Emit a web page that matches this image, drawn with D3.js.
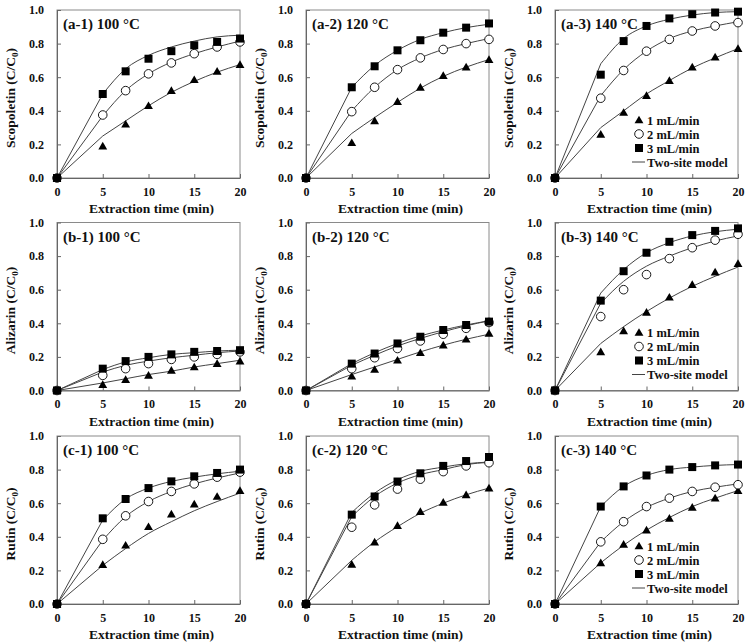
<!DOCTYPE html>
<html><head><meta charset="utf-8">
<script src="https://cdn.jsdelivr.net/npm/d3@7"></script>
<style>
html,body{margin:0;padding:0;background:#fff;}
svg text{font-family:"Liberation Serif","Times New Roman",serif;font-weight:bold;fill:#111;}
</style></head>
<body>
<svg id="chart" width="751" height="644"></svg>
<script>
// ---------- data ----------
const times = [0, 5, 7.5, 10, 12.5, 15, 17.5, 20];
const xTicks = [0, 5, 10, 15, 20];
const yTicks = [0, 0.2, 0.4, 0.6, 0.8, 1.0];
const flowLabels = ["1 mL/min", "2 mL/min", "3 mL/min"];
const modelLabel = "Two-site model";
const panelTitles = ["(a-1) 100 °C","(a-2) 120 °C","(a-3) 140 °C",
                     "(b-1) 100 °C","(b-2) 120 °C","(b-3) 140 °C",
                     "(c-1) 100 °C","(c-2) 120 °C","(c-3) 140 °C"];
const compounds = ["Scopoletin", "Alizarin", "Rutin"];

// measured points: [1 mL/min, 2 mL/min, 3 mL/min]
const a1Points = [[0,0.19,0.32,0.43,0.52,0.585,0.635,0.675],[0,0.375,0.52,0.62,0.685,0.74,0.78,0.81],[0,0.50,0.635,0.71,0.755,0.79,0.81,0.83]];
const a2Points = [[0,0.21,0.34,0.455,0.54,0.61,0.66,0.705],[0,0.395,0.54,0.645,0.715,0.765,0.80,0.825],[0,0.54,0.665,0.76,0.82,0.865,0.895,0.92]];
const a3Points = [[0,0.26,0.39,0.49,0.58,0.66,0.72,0.77],[0,0.475,0.64,0.755,0.825,0.875,0.905,0.925],[0,0.615,0.815,0.905,0.95,0.975,0.985,0.99]];
const b1Points = [[0,0.035,0.065,0.09,0.12,0.14,0.16,0.175],[0,0.09,0.13,0.16,0.185,0.20,0.215,0.23],[0,0.13,0.175,0.20,0.215,0.23,0.235,0.24]];
const b2Points = [[0,0.085,0.125,0.18,0.225,0.27,0.305,0.34],[0,0.13,0.195,0.25,0.295,0.335,0.37,0.405],[0,0.16,0.22,0.28,0.32,0.36,0.39,0.41]];
const b3Points = [[0,0.23,0.355,0.465,0.555,0.63,0.705,0.755],[0,0.44,0.60,0.69,0.785,0.85,0.895,0.93],[0,0.535,0.71,0.82,0.885,0.925,0.95,0.965]];
const c1Points = [[0,0.235,0.35,0.46,0.535,0.595,0.64,0.675],[0,0.385,0.525,0.61,0.67,0.715,0.755,0.785],[0,0.51,0.625,0.69,0.73,0.76,0.78,0.80]];
const c2Points = [[0,0.236,0.368,0.467,0.55,0.605,0.65,0.69],[0,0.457,0.59,0.684,0.743,0.788,0.822,0.841],[0,0.532,0.64,0.729,0.778,0.822,0.851,0.875]];
const c3Points = [[0,0.245,0.355,0.44,0.51,0.575,0.63,0.675],[0,0.37,0.49,0.58,0.63,0.67,0.695,0.71],[0,0.58,0.70,0.765,0.80,0.815,0.825,0.83]];

// two-site model curves read at the same times
const a1Model = [[0,0.25,0.34,0.43,0.51,0.575,0.63,0.675],[0,0.37,0.52,0.62,0.69,0.74,0.78,0.815],[0,0.50,0.65,0.73,0.78,0.815,0.84,0.85]];
const a2Model = [[0,0.265,0.36,0.45,0.535,0.605,0.66,0.705],[0,0.40,0.54,0.645,0.715,0.765,0.80,0.83],[0,0.54,0.67,0.76,0.825,0.865,0.895,0.915]];
const a3Model = [[0,0.30,0.40,0.50,0.58,0.655,0.715,0.77],[0,0.49,0.645,0.755,0.83,0.875,0.905,0.93],[0,0.68,0.83,0.905,0.945,0.97,0.985,0.99]];
const b1Model = [[0,0.045,0.07,0.095,0.115,0.14,0.16,0.18],[0,0.11,0.15,0.175,0.195,0.21,0.225,0.235],[0,0.125,0.17,0.195,0.215,0.225,0.235,0.24]];
const b2Model = [[0,0.095,0.14,0.185,0.23,0.27,0.305,0.335],[0,0.15,0.21,0.265,0.31,0.35,0.385,0.415],[0,0.16,0.225,0.28,0.325,0.36,0.39,0.415]];
const b3Model = [[0,0.28,0.38,0.47,0.55,0.62,0.68,0.735],[0,0.52,0.65,0.74,0.80,0.85,0.89,0.92],[0,0.58,0.72,0.82,0.88,0.92,0.945,0.96]];
const c1Model = [[0,0.23,0.33,0.42,0.49,0.555,0.61,0.66],[0,0.38,0.52,0.61,0.67,0.715,0.75,0.78],[0,0.50,0.625,0.69,0.73,0.755,0.775,0.79]];
const c2Model = [[0,0.26,0.37,0.46,0.54,0.60,0.65,0.69],[0,0.52,0.64,0.72,0.77,0.80,0.83,0.843],[0,0.545,0.66,0.74,0.79,0.815,0.835,0.845]];
const c3Model = [[0,0.245,0.35,0.44,0.515,0.58,0.63,0.675],[0,0.37,0.49,0.575,0.63,0.67,0.695,0.715],[0,0.58,0.70,0.765,0.80,0.815,0.825,0.83]];

const allPoints = [a1Points,a2Points,a3Points,b1Points,b2Points,b3Points,c1Points,c2Points,c3Points];
const allModels = [a1Model,a2Model,a3Model,b1Model,b2Model,b3Model,c1Model,c2Model,c3Model];

// ---------- layout ----------
const colX = [57, 306, 555];
const rowY = [10, 222.5, 436];
const PW = 183, PH = 168;

const svg = d3.select("#chart");

const symTri = d3.symbol().type(d3.symbolTriangle).size(34);
const symSq = d3.symbol().type(d3.symbolSquare).size(64);

function drawMarker(g, k, cx, cy) {
  if (k === 0) {
    g.append("path").attr("d", symTri()).attr("transform", `translate(${cx},${cy+0.8})`).attr("fill", "#000");
  } else if (k === 1) {
    g.append("circle").attr("cx", cx).attr("cy", cy).attr("r", 4.3)
      .attr("fill", "#fff").attr("stroke", "#000").attr("stroke-width", 0.9);
  } else {
    g.append("path").attr("d", symSq()).attr("transform", `translate(${cx},${cy})`).attr("fill", "#000");
  }
}

for (let p = 0; p < 9; p++) {
  const r = Math.floor(p / 3), c = p % 3;
  const x0 = colX[c], y0 = rowY[r];
  const x = d3.scaleLinear().domain([0, 20]).range([x0, x0 + PW]);
  const y = d3.scaleLinear().domain([0, 1]).range([y0 + PH, y0]);
  const g = svg.append("g");

  // frame
  g.append("rect").attr("x", x0).attr("y", y0).attr("width", PW).attr("height", PH)
    .attr("fill", "none").attr("stroke", "#8a8a8a").attr("stroke-width", 1);

  // axes
  const yAxis = d3.axisLeft(y).tickValues(yTicks).tickFormat(d3.format(".1f"))
    .tickSizeInner(-4).tickSizeOuter(0).tickPadding(13);
  const xAxis = d3.axisBottom(x).tickValues(xTicks).tickFormat(d3.format("d"))
    .tickSizeInner(-4).tickSizeOuter(0).tickPadding(9);
  const ga = g.append("g").attr("transform", `translate(${x0},0)`).call(yAxis);
  const gb = g.append("g").attr("transform", `translate(0,${y0 + PH})`).call(xAxis);
  [ga, gb].forEach(a => {
    a.select(".domain").attr("stroke", "#666");
    a.selectAll(".tick line").attr("stroke", "#666");
    a.selectAll("text").attr("font-size", 12).attr("fill", "#111")
      .attr("font-family", '"Liberation Serif",serif').attr("font-weight", "bold");
  });

  // axis titles
  g.append("text").attr("x", x0 + PW / 2 + 3).attr("y", y0 + PH + 35)
    .attr("text-anchor", "middle").attr("font-size", 13.5).text("Extraction time (min)");
  const yt = g.append("text").attr("transform", `translate(${x0 - 42},${y0 + PH / 2 + 4}) rotate(-90)`)
    .attr("text-anchor", "middle").attr("font-size", 13.5);
  yt.append("tspan").text(compounds[r] + " (C/C");
  yt.append("tspan").attr("font-size", 9).attr("dy", 3).text("0");
  yt.append("tspan").attr("dy", -3).text(")");

  // panel title
  g.append("text").attr("x", x0 + 6).attr("y", y0 + 19).attr("font-size", 15).text(panelTitles[p]);

  // model curves: straight from the origin to t = 5, smooth afterwards
  const curve = d3.line().x(d => x(d[0])).y(d => y(d[1])).curve(d3.curveMonotoneX);
  allModels[p].forEach(s => {
    const pts = s.map((v, i) => [times[i], v]);
    const tail = curve(pts.slice(1));
    const d = `M${x(pts[0][0])},${y(pts[0][1])}L` + tail.slice(1);
    g.append("path").attr("d", d).attr("fill", "none")
      .attr("stroke", "#444").attr("stroke-width", 1);
  });

  // points
  allPoints[p].forEach((s, k) => {
    s.forEach((v, i) => drawMarker(g, k, x(times[i]), y(v)));
  });

  // legend in the 140 °C panels
  if (c === 2) {
    const lx = x0 + 84, ly = y0 + 110;
    for (let k = 0; k < 3; k++) {
      drawMarker(g, k, lx, ly + k * 14);
      g.append("text").attr("x", lx + 8).attr("y", ly + k * 14 + 4.5)
        .attr("font-size", 12.5).text(flowLabels[k]);
    }
    g.append("line").attr("x1", lx - 7).attr("x2", lx + 6)
      .attr("y1", ly + 42).attr("y2", ly + 42).attr("stroke", "#444").attr("stroke-width", 1);
    g.append("text").attr("x", lx + 8).attr("y", ly + 42 + 4.5)
      .attr("font-size", 12.5).text(modelLabel);
  }
}
</script>
</body></html>
